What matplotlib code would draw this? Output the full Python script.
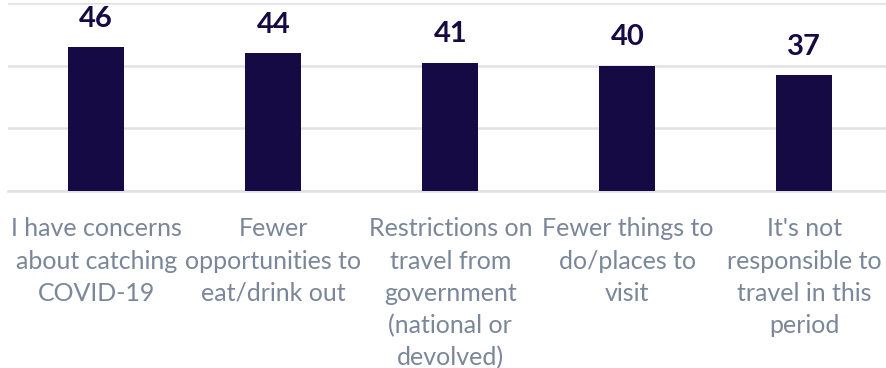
import matplotlib
matplotlib.use("Agg")
import matplotlib.pyplot as plt

categories = [
    "I have concerns\nabout catching\nCOVID-19",
    "Fewer\nopportunities to\neat/drink out",
    "Restrictions on\ntravel from\ngovernment\n(national or\ndevolved)",
    "Fewer things to\ndo/places to\nvisit",
    "It's not\nresponsible to\ntravel in this\nperiod",
]
values = [46, 44, 41, 40, 37]

BAR = "#160a45"
LABEL = "#7a8699"
GRID = "#e1e1e8"

plt.rcParams['font.family'] = ['Lato', 'DejaVu Sans']

fig = plt.figure(figsize=(8.86, 3.68), dpi=100)
ax = fig.add_axes([7.8/886, 1-191/368, 885/886, 188/368])

x = list(range(len(categories)))
bars = ax.bar(x, values, width=0.316, color=BAR, zorder=3)
for xi, v in zip(x, values):
    ax.annotate(str(v), (xi, v), xytext=(0, 11), textcoords='offset points',
                ha='center', va='bottom', fontsize=21, fontweight='bold', color=BAR)

ax.set_xlim(-0.5, len(categories) - 0.5)
ax.set_ylim(0, 60)
ax.set_yticks([0, 20, 40, 60])
ax.yaxis.grid(True, color=GRID, linewidth=1.8, zorder=0)
ax.tick_params(axis='y', left=False, labelleft=False)
ax.set_xticks(x)
ax.set_xticklabels(categories, fontsize=18, color=LABEL, linespacing=1.48)
ax.tick_params(axis='x', length=0, pad=19)
for s in ['top', 'right', 'left']:
    ax.spines[s].set_visible(False)
ax.spines['bottom'].set_color(GRID)
ax.spines['bottom'].set_linewidth(1.8)

fig.savefig("out.png", dpi=100)
